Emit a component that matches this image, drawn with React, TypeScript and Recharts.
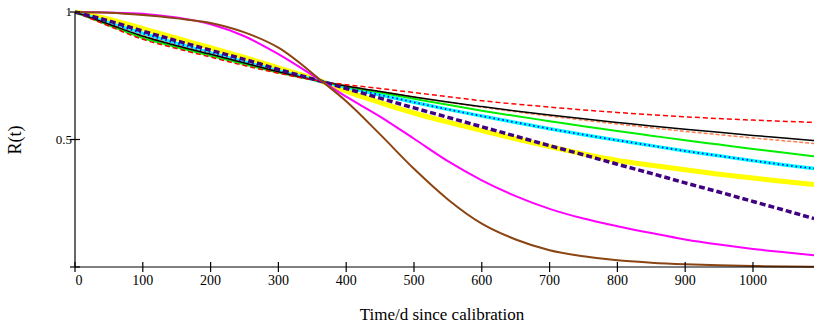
import React from 'react';
import { LineChart, Line, XAxis, YAxis } from 'recharts';

// time since calibration, days
const days = [0, 50, 100, 150, 200, 250, 300, 365, 400, 450, 500, 550, 600, 650, 700, 750, 800, 850, 900, 950, 1000, 1050, 1090];

// reliability curves
const redDash = [1, 0.945, 0.893, 0.857, 0.823, 0.79, 0.76, 0.727, 0.715, 0.7, 0.684, 0.668, 0.652, 0.639, 0.627, 0.616, 0.606, 0.597, 0.589, 0.582, 0.576, 0.571, 0.567];
const black = [1, 0.952, 0.905, 0.868, 0.834, 0.8, 0.766, 0.727, 0.71, 0.688, 0.667, 0.647, 0.629, 0.612, 0.596, 0.581, 0.567, 0.553, 0.54, 0.528, 0.516, 0.505, 0.496];
const orangeDash = [1, 0.953, 0.908, 0.87, 0.836, 0.801, 0.767, 0.727, 0.71, 0.688, 0.667, 0.646, 0.627, 0.609, 0.592, 0.576, 0.561, 0.546, 0.532, 0.519, 0.506, 0.494, 0.484];
const green = [1, 0.948, 0.898, 0.862, 0.828, 0.795, 0.763, 0.727, 0.708, 0.684, 0.66, 0.636, 0.613, 0.592, 0.572, 0.552, 0.533, 0.515, 0.497, 0.48, 0.463, 0.447, 0.434];
const cyan = [1, 0.957, 0.916, 0.877, 0.839, 0.804, 0.769, 0.727, 0.705, 0.675, 0.646, 0.618, 0.592, 0.567, 0.542, 0.519, 0.497, 0.476, 0.455, 0.436, 0.417, 0.399, 0.386];
const yellow = [1, 0.972, 0.935, 0.897, 0.86, 0.822, 0.781, 0.727, 0.69, 0.645, 0.604, 0.568, 0.535, 0.503, 0.472, 0.443, 0.418, 0.399, 0.381, 0.364, 0.349, 0.334, 0.323];
const indigoDash = [1, 0.965, 0.925, 0.887, 0.85, 0.814, 0.775, 0.727, 0.7, 0.662, 0.624, 0.587, 0.55, 0.513, 0.476, 0.44, 0.403, 0.367, 0.33, 0.294, 0.257, 0.22, 0.19];
const magenta = [1, 0.998, 0.993, 0.978, 0.952, 0.905, 0.835, 0.727, 0.668, 0.59, 0.503, 0.415, 0.34, 0.278, 0.228, 0.19, 0.16, 0.133, 0.108, 0.088, 0.071, 0.057, 0.046];
const brown = [1, 0.997, 0.988, 0.975, 0.957, 0.92, 0.86, 0.727, 0.65, 0.52, 0.385, 0.265, 0.17, 0.108, 0.066, 0.042, 0.026, 0.017, 0.011, 0.007, 0.004, 0.002, 0.001];

const xTicks = [0, 100, 200, 300, 400, 500, 600, 700, 800, 900, 1000];
const yTicks = [0, 0.5, 1];
const yLabels: Record<number, string> = { 0: '', 0.5: '0.5', 1: '1' };

const data = days.map((t, i) => ({
  t,
  red: redDash[i],
  black: black[i],
  orange: orangeDash[i],
  green: green[i],
  cyan: cyan[i],
  yellow: yellow[i],
  indigo: indigoDash[i],
  magenta: magenta[i],
  brown: brown[i],
}));

const FONT = '"Liberation Serif", "Times New Roman", serif';

// ticks cross the axis line, like the original plot
const XTick = (props: any) => {
  const { x, y, payload } = props;
  return (
    <g>
      <line x1={x} x2={x} y1={y - 5} y2={y + 5} stroke="#000" strokeWidth={1.2} />
      <text x={x + (payload.value === 0 ? 4 : 0)} y={y + 18} textAnchor="middle" fontFamily={FONT} fontSize={14} fill="#000">
        {payload.value}
      </text>
    </g>
  );
};

const YTick = (props: any) => {
  const { x, y, payload } = props;
  return (
    <g>
      <line x1={x - 5} x2={x + 5} y1={y} y2={y} stroke="#000" strokeWidth={1.2} />
      <text x={x - 3} y={y + 4} textAnchor="end" fontFamily={FONT} fontSize={13} fill="#000">
        {yLabels[payload.value]}
      </text>
    </g>
  );
};

const App: React.FC = () => {
  return (
    <div style={{ position: 'absolute', left: 0, top: 0, width: 814, height: 325, background: '#fff' }}>
      <LineChart width={814} height={325} data={data} margin={{ top: 12, right: 0, left: 0, bottom: 0 }}>
        <XAxis
          dataKey="t"
          type="number"
          domain={[0, 1090]}
          ticks={xTicks}
          tick={<XTick />}
          tickLine={false}
          tickSize={0}
          tickMargin={0}
          height={58}
          axisLine={{ stroke: '#000', strokeWidth: 1.2 }}
          allowDataOverflow
        />
        <YAxis
          type="number"
          domain={[0, 1]}
          ticks={yTicks}
          tick={<YTick />}
          tickLine={false}
          tickSize={0}
          tickMargin={0}
          width={75}
          axisLine={{ stroke: '#000', strokeWidth: 1.2 }}
        />
        <Line type="monotone" dataKey="yellow" stroke="#ffff00" strokeWidth={5} dot={false} isAnimationActive={false} />
        <Line type="monotone" dataKey="cyan" stroke="#00ffff" strokeWidth={3.5} dot={false} isAnimationActive={false} />
        <Line type="monotone" dataKey="cyan" stroke="#0000ff" strokeWidth={1.8} strokeDasharray="1.5 3" dot={false} isAnimationActive={false} />
        <Line type="monotone" dataKey="green" stroke="#00ee00" strokeWidth={2} dot={false} isAnimationActive={false} />
        <Line type="monotone" dataKey="orange" stroke="#ff7f50" strokeWidth={1.5} strokeDasharray="4 2" dot={false} isAnimationActive={false} />
        <Line type="monotone" dataKey="black" stroke="#000" strokeWidth={1.5} dot={false} isAnimationActive={false} />
        <Line type="monotone" dataKey="red" stroke="#ff0000" strokeWidth={1.5} strokeDasharray="5 3" dot={false} isAnimationActive={false} />
        <Line type="monotone" dataKey="indigo" stroke="#400080" strokeWidth={3.5} strokeDasharray="6 3" dot={false} isAnimationActive={false} />
        <Line type="monotone" dataKey="magenta" stroke="#ff00ff" strokeWidth={2} dot={false} isAnimationActive={false} />
        <Line type="monotone" dataKey="brown" stroke="#8b4513" strokeWidth={2} dot={false} isAnimationActive={false} />
      </LineChart>
      <div
        style={{
          position: 'absolute',
          left: 0,
          width: 814,
          top: 305,
          textAlign: 'center',
          paddingLeft: 70,
          boxSizing: 'border-box',
          fontFamily: FONT,
          fontSize: 17,
          color: '#000',
          lineHeight: '19px',
        }}
      >
        Time/d since calibration
      </div>
      <div
        style={{
          position: 'absolute',
          left: 15,
          top: 140,
          transform: 'translate(-50%, -50%) rotate(-90deg)',
          fontFamily: FONT,
          fontSize: 18,
          color: '#000',
          whiteSpace: 'nowrap',
        }}
      >
        R(t)
      </div>
    </div>
  );
};

export default App;
